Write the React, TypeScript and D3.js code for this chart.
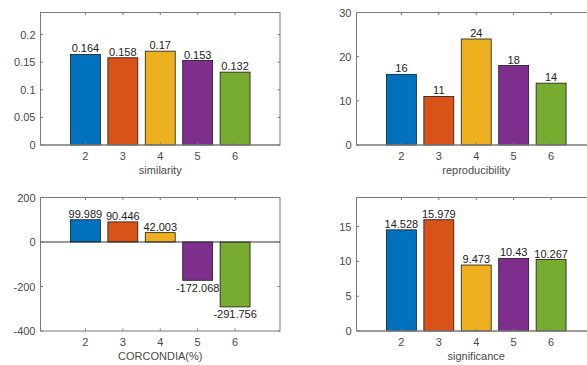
import React from "react";
import * as d3 from "d3";

const categories = [2, 3, 4, 5, 6];
const colors = ["#0072BD", "#D95319", "#EDB120", "#7E2F8E", "#77AC30"];

const similarity = [0.164, 0.158, 0.17, 0.153, 0.132];
const reproducibility = [16, 11, 24, 18, 14];
const corcondia = [99.989, 90.446, 42.003, -172.068, -291.756];
const significance = [14.528, 15.979, 9.473, 10.43, 10.267];

const simTicks = [0, 0.05, 0.1, 0.15, 0.2];
const repTicks = [0, 10, 20, 30];
const corTicks = [-400, -200, 0, 200];
const sigTicks = [0, 5, 10, 15];

const simLabels = ["0.164", "0.158", "0.17", "0.153", "0.132"];
const repLabels = ["16", "11", "24", "18", "14"];
const corLabels = ["99.989", "90.446", "42.003", "-172.068", "-291.756"];
const sigLabels = ["14.528", "15.979", "9.473", "10.43", "10.267"];

const FONT = "'Liberation Sans', Arial, Helvetica, sans-serif";
const AXIS = "#7a7a7a";
const TICKTXT = "#4a4a4a";

type PanelProps = {
  x0: number;
  x1: number;
  yTop: number;
  yBot: number;
  domain: [number, number];
  values: number[];
  labels: string[];
  ticks: number[];
  tickFmt: (v: number) => string;
  xlabel: string;
};

function Panel({ x0, x1, yTop, yBot, domain, values, labels, ticks, tickFmt, xlabel }: PanelProps) {
  const x = d3.scaleLinear().domain([0.8, 7.2]).range([x0, x1]);
  const y = d3.scaleLinear().domain(domain).range([yBot, yTop]);
  const bw = x(0.8) - x(0);
  const tl = 2.5;
  return (
    <g>
      {values.map((v, i) => {
        const c = categories[i];
        const top = y(Math.max(0, v));
        const bot = y(Math.min(0, v));
        return (
          <rect
            key={"b" + i}
            x={x(c) - bw / 2}
            y={top}
            width={bw}
            height={bot - top}
            fill={colors[i]}
            stroke="#1a1a1a"
            strokeWidth={0.8}
          />
        );
      })}
      <rect x={x0} y={yTop} width={x1 - x0} height={yBot - yTop} fill="none" stroke={AXIS} strokeWidth={1} />
      <line x1={x0} x2={x1} y1={y(0)} y2={y(0)} stroke={domain[0] < 0 ? "#333" : AXIS} strokeWidth={1} />
      {categories.map((c) => (
        <g key={"xt" + c}>
          <line x1={x(c)} x2={x(c)} y1={yBot} y2={yBot - tl} stroke={AXIS} />
          <line x1={x(c)} x2={x(c)} y1={yTop} y2={yTop + tl} stroke={AXIS} />
          <text x={x(c)} y={yBot + 15} textAnchor="middle" fontSize={11} fill={TICKTXT} fontFamily={FONT}>
            {c}
          </text>
        </g>
      ))}
      {ticks.map((t) => (
        <g key={"yt" + t}>
          <line x1={x0} x2={x0 + tl} y1={y(t)} y2={y(t)} stroke={AXIS} />
          <line x1={x1} x2={x1 - tl} y1={y(t)} y2={y(t)} stroke={AXIS} />
          <text x={x0 - 5} y={y(t) + 4} textAnchor="end" fontSize={11} fill={TICKTXT} fontFamily={FONT}>
            {tickFmt(t)}
          </text>
        </g>
      ))}
      {values.map((v, i) => (
        <text
          key={"l" + i}
          x={x(categories[i])}
          y={v >= 0 ? y(v) - 2 : y(v) + 11.5}
          textAnchor="middle"
          fontSize={11}
          fill="#222"
          fontFamily={FONT}
        >
          {labels[i]}
        </text>
      ))}
      <text x={(x0 + x1) / 2} y={yBot + 29} textAnchor="middle" fontSize={11} fill={TICKTXT} fontFamily={FONT}>
        {xlabel}
      </text>
    </g>
  );
}

export default function App() {
  const fmt = (v: number) => String(v);
  return (
    <svg
      width={587}
      height={365}
      style={{ position: "absolute", left: 0, top: 0, background: "#fff" }}
    >
      <Panel x0={40.5} x1={280} yTop={12.5} yBot={145} domain={[0, 0.24]} values={similarity} labels={simLabels} ticks={simTicks} tickFmt={fmt} xlabel="similarity" />
      <Panel x0={356.5} x1={596} yTop={12.5} yBot={145} domain={[0, 30]} values={reproducibility} labels={repLabels} ticks={repTicks} tickFmt={fmt} xlabel="reproducibility" />
      <Panel x0={40.5} x1={280} yTop={197.5} yBot={331} domain={[-400, 200]} values={corcondia} labels={corLabels} ticks={corTicks} tickFmt={fmt} xlabel="CORCONDIA(%)" />
      <Panel x0={356.5} x1={596} yTop={197.5} yBot={331} domain={[0, 19.17]} values={significance} labels={sigLabels} ticks={sigTicks} tickFmt={fmt} xlabel="significance" />
    </svg>
  );
}
